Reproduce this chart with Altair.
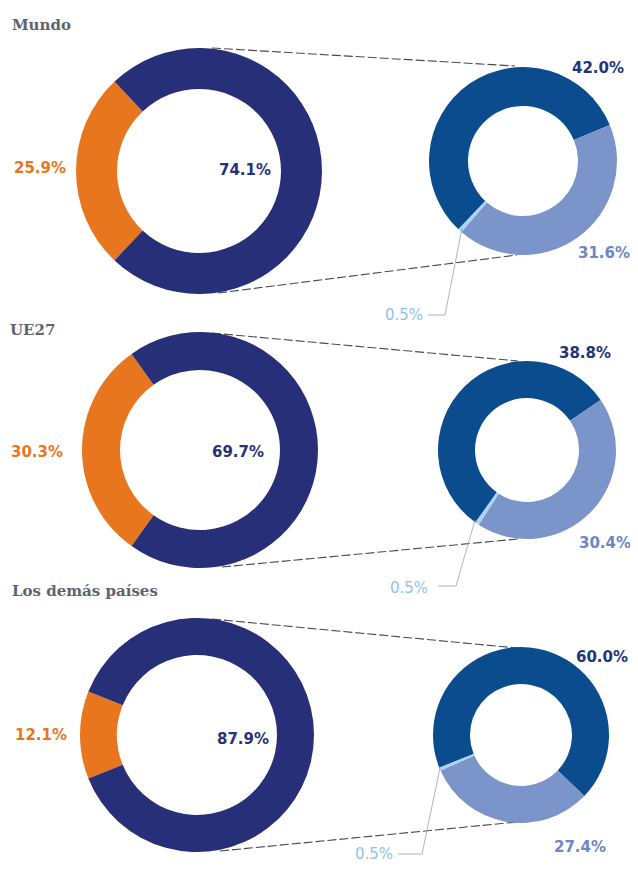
import math
import altair as alt
import pandas as pd

# ---------------- data ----------------
regions = ["Mundo", "UE27", "Los demás países"]
share_orange = [25.9, 30.3, 12.1]
share_navy = [74.1, 69.7, 87.9]
sub_dark = [42.0, 38.8, 60.0]
sub_light = [31.6, 30.4, 27.4]
sub_thin = [0.5, 0.5, 0.5]

seg_names = ["orange", "navy", "dark", "light", "thin"]
seg_colors = ["#e8761f", "#272f78", "#0b4c8e", "#7b94c9", "#a9d3f2"]

# ---------------- layout (image px, page margin 8) ----------------
M = 8
big_c = [(199, 171), (200, 450), (197, 735)]
big_r = [(123, 82), (118, 80), (117, 80)]
small_c = [(523, 161), (527, 450), (521, 735)]
small_r = [(94, 55), (89, 52), (88, 51)]
title_pos = [(12, 25), (10, 330), (12, 591)]
lbl_orange = [(40, 168), (37, 452), (41, 735)]
lbl_navy = [(245, 170), (238, 452), (243, 739)]
lbl_dark = [(598, 68), (585, 353), (602, 657)]
lbl_light = [(604, 253), (605, 543), (580, 847)]
lbl_thin = [(423, 315), (428, 588), (393, 854)]
conn_top = [((212, 48), (515, 66)), ((212, 333), (518, 361)), ((212, 619), (517, 648))]
conn_bot = [((218, 293), (517, 255)), ((222, 567), (518, 539)), ((220, 851), (517, 822))]
leader = [((462, 228), (445, 315), (428, 315)),
          ((475, 520), (456, 586), (438, 586)),
          ((440, 768), (422, 854), (398, 854))]

color_scale = alt.Scale(domain=seg_names, range=seg_colors)
layers = []


def donut(df, total, start, c, r):
    return alt.Chart(df).mark_arc(
        x=c[0] - M, y=c[1] - M, radius=r[0], radius2=r[1], stroke=None
    ).encode(
        theta=alt.Theta("v:Q", stack=True,
                        scale=alt.Scale(domain=[0, total], range=[start, start + 2 * math.pi])),
        color=alt.Color("seg:N", scale=color_scale, legend=None),
        order=alt.Order("o:Q"),
    )


def label(value, pos, color, align="center", weight="bold", size=15):
    df = pd.DataFrame({"v": [value]})
    return alt.Chart(df).transform_calculate(
        lab="format(datum.v, '.1f') + '%'"
    ).mark_text(
        x=pos[0] - M, y=pos[1] - M, align=align, baseline="middle",
        font="DejaVu Sans", fontSize=size, fontWeight=weight, color=color
    ).encode(text="lab:N")


def rule(p0, p1, color, width, dash=None):
    kw = dict(color=color, strokeWidth=width)
    if dash:
        kw["strokeDash"] = dash
    return alt.Chart(pd.DataFrame({"a": [0]})).mark_rule(**kw).encode(
        x=alt.value(p0[0] - M), y=alt.value(p0[1] - M),
        x2=alt.value(p1[0] - M), y2=alt.value(p1[1] - M),
    )


for i in range(3):
    start = 2 * math.pi * (0.75 - share_orange[i] / 200.0)

    # connectors (behind)
    layers.append(rule(*conn_top[i], "#4a4a4a", 1.1, [9, 3]))
    layers.append(rule(*conn_bot[i], "#4a4a4a", 1.1, [9, 3]))

    big_df = pd.DataFrame({"seg": ["orange", "navy"],
                           "v": [share_orange[i], share_navy[i]],
                           "o": [0, 1]})
    layers.append(donut(big_df, share_orange[i] + share_navy[i], start, big_c[i], big_r[i]))

    small_df = pd.DataFrame({"seg": ["dark", "light", "thin"],
                             "v": [sub_dark[i], sub_light[i], sub_thin[i]],
                             "o": [0, 1, 2]})
    layers.append(donut(small_df, sub_dark[i] + sub_light[i] + sub_thin[i], start,
                        small_c[i], small_r[i]))

    # leader for the thin slice
    a, b, c = leader[i]
    layers.append(rule(a, b, "#a0a0a0", 0.8))
    layers.append(rule(b, c, "#a0a0a0", 0.8))

    # title
    layers.append(
        alt.Chart(pd.DataFrame({"t": [regions[i]]})).mark_text(
            x=title_pos[i][0] - M, y=title_pos[i][1] - M, align="left", baseline="middle",
            font="DejaVu Serif", fontSize=15, fontWeight="bold", color="#5c666e"
        ).encode(text="t:N")
    )

    layers.append(label(share_orange[i], lbl_orange[i], "#e8761f"))
    layers.append(label(share_navy[i], lbl_navy[i], "#283279"))
    layers.append(label(sub_dark[i], lbl_dark[i], "#22347a"))
    layers.append(label(sub_light[i], lbl_light[i], "#6b87c5"))
    layers.append(label(sub_thin[i], lbl_thin[i], "#8ec3ec", align="right", weight="normal"))

chart = alt.layer(*layers).resolve_scale(theta="independent").properties(
    width=622, height=857, padding=0, autosize="none"
).configure_view(strokeWidth=0)

chart.save("out.html", embed_options={"renderer": "svg", "actions": False})
